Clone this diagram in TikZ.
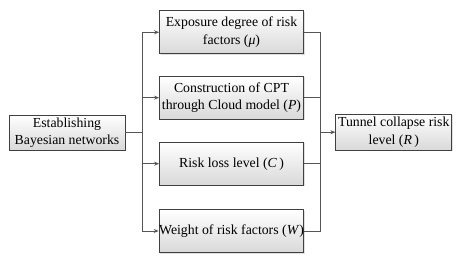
\documentclass[tikz,border=0pt]{standalone}
\usepackage{fontspec}
\setmainfont{Liberation Serif}
\usetikzlibrary{arrows.meta,shadows}
\definecolor{linec}{HTML}{555555}
\definecolor{boxc}{HTML}{404040}
\tikzset{
  stepbox/.style={draw=boxc, line width=0.8pt, top color=white, bottom color=black!15,
    drop shadow={shadow xshift=1.2pt, shadow yshift=-1.2pt, opacity=0.25},
    align=center, inner sep=0pt, font=\fontsize{13.8}{17.5}\selectfont},
  conn/.style={draw=linec, line width=0.8pt},
  arr/.style={conn, -{Stealth[length=5pt,width=4pt]}}
}
\begin{document}
\begin{tikzpicture}[x=1pt,y=1pt]
\useasboundingbox (0,0) rectangle (461,261);
\node[stepbox, minimum width=116pt, minimum height=35pt] (L) at (67,{261-132.5}) {Establishing\\Bayesian networks};
\node[stepbox, minimum width=144pt, minimum height=43pt] (b1) at (231.5,{261-32.3}) {Exposure degree of risk\\factors (\textit{μ})};
\node[stepbox, minimum width=144pt, minimum height=43pt] (b2) at (231.5,{261-97.7}) {Construction of CPT\\through Cloud model (\textit{P})};
\node[stepbox, minimum width=144pt, minimum height=43pt] (b3) at (231.5,{261-163.7}) {Risk loss level (\textit{C}\,)};
\node[stepbox, minimum width=144pt, minimum height=43pt] (b4) at (231.5,{261-231}) {Weight of risk factors (\textit{W})};
\node[stepbox, minimum width=116pt, minimum height=36pt] (R) at (393.8,{261-132.2}) {Tunnel collapse risk\\level (\textit{R}\,)};
\coordinate (jl) at (142.7,{261-132.5});
\coordinate (jr) at (320.7,{261-132.2});
\draw[conn] (L.east) -- (jl);
\draw[arr] (jl) |- (b1.west);
\draw[arr] (jl) |- (b2.west);
\draw[arr] (jl) |- (b3.west);
\draw[arr] (jl) |- (b4.west);
\draw[conn] (b1.east) -| (jr);
\draw[conn] (b2.east) -| (jr);
\draw[conn] (b3.east) -| (jr);
\draw[conn] (b4.east) -| (jr);
\draw[arr] (jr) -- (R.west);
\end{tikzpicture}
\end{document}
